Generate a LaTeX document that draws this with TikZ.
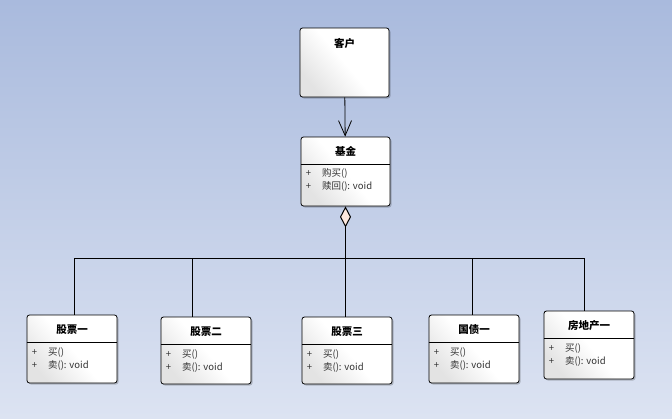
\documentclass[tikz,border=0pt]{standalone}
\usepackage{fontspec}
\setmainfont{Noto Sans CJK SC}
\usepackage{tikz}
\usetikzlibrary{arrows.meta,shadows,positioning}
\definecolor{bgtop}{RGB}{169,186,221}
\definecolor{bgbottom}{RGB}{220,227,242}
\definecolor{diamondfill}{RGB}{253,232,222}

\begin{document}
\begin{tikzpicture}[x=1pt,y=-1pt,
  classbox/.style={draw=black, line width=0.8pt, rounded corners=2.5pt,
    minimum width=89pt, minimum height=69pt, inner sep=0pt,
    top color=white, bottom color=black!11, middle color=white, shading angle=-50,
    drop shadow={shadow xshift=1.5pt, shadow yshift=-1.5pt, opacity=0.2, fill=black}},
  classtitle/.style={inner sep=0pt, font=\fontsize{10.5}{12}\selectfont\bfseries},
  members/.style={inner sep=0pt, anchor=north west, text=black!80,
    font=\fontsize{9.5}{12.5}\selectfont},
  divider/.style={line width=0.6pt},
  link/.style={line width=0.8pt}]
%%%%%%%%%%%%%%%%%%%%%%%%%%%%%%%
% background
%%%%%%%%%%%%%%%%%%%%%%%%%%%%%%%
\useasboundingbox (0,0) rectangle (672,418);
\shade[top color=bgtop, bottom color=bgbottom] (0,0) rectangle (672,418);
%
\node[classbox] (client) at (344.5,62.5) {};
\node[classtitle] at ([yshift=-16pt]client.north) {客户};
%
\node[classbox] (fund) at (345.5,171.5) {};
\node[classtitle] at ([yshift=-15pt]fund.north) {基金};
\draw[divider] ([yshift=-27.5pt]fund.north west) -- ([yshift=-27.5pt]fund.north east);
\node[members] at ([xshift=5pt,yshift=-31pt]fund.north west)
  {\begin{tabular}{@{}l@{\hspace{11pt}}l@{}}+ & 购买()\\+ & 赎回(): void\end{tabular}};
%
\node[classbox, minimum width=90pt, minimum height=68pt] (s1) at (72,349) {};
\node[classtitle] at ([yshift=-15pt]s1.north) {股票一};
\draw[divider] ([yshift=-27.5pt]s1.north west) -- ([yshift=-27.5pt]s1.north east);
\node[members] at ([xshift=5pt,yshift=-32pt]s1.north west)
  {\begin{tabular}{@{}l@{\hspace{11pt}}l@{}}+ & 买()\\+ & 卖(): void\end{tabular}};
%
\node[classbox, minimum width=90pt, minimum height=67pt] (s2) at (206,350.5) {};
\node[classtitle] at ([yshift=-15pt]s2.north) {股票二};
\draw[divider] ([yshift=-27.5pt]s2.north west) -- ([yshift=-27.5pt]s2.north east);
\node[members] at ([xshift=5pt,yshift=-32pt]s2.north west)
  {\begin{tabular}{@{}l@{\hspace{11pt}}l@{}}+ & 买()\\+ & 卖(): void\end{tabular}};
%
\node[classbox, minimum width=90pt, minimum height=67pt] (s3) at (347,350.5) {};
\node[classtitle] at ([yshift=-15pt]s3.north) {股票三};
\draw[divider] ([yshift=-27.5pt]s3.north west) -- ([yshift=-27.5pt]s3.north east);
\node[members] at ([xshift=5pt,yshift=-32pt]s3.north west)
  {\begin{tabular}{@{}l@{\hspace{11pt}}l@{}}+ & 买()\\+ & 卖(): void\end{tabular}};
%
\node[classbox, minimum width=90pt, minimum height=68pt] (s4) at (474,349) {};
\node[classtitle] at ([yshift=-15pt]s4.north) {国债一};
\draw[divider] ([yshift=-27.5pt]s4.north west) -- ([yshift=-27.5pt]s4.north east);
\node[members] at ([xshift=5pt,yshift=-32pt]s4.north west)
  {\begin{tabular}{@{}l@{\hspace{11pt}}l@{}}+ & 买()\\+ & 卖(): void\end{tabular}};
%
\node[classbox, minimum width=90pt, minimum height=68pt] (s5) at (589,345) {};
\node[classtitle] at ([yshift=-15pt]s5.north) {房地产一};
\draw[divider] ([yshift=-27.5pt]s5.north west) -- ([yshift=-27.5pt]s5.north east);
\node[members] at ([xshift=5pt,yshift=-32pt]s5.north west)
  {\begin{tabular}{@{}l@{\hspace{11pt}}l@{}}+ & 买()\\+ & 卖(): void\end{tabular}};
%%%%%%%%%%%%%%%%%%%%%%%%%%%%%%%
% links
%%%%%%%%%%%%%%%%%%%%%%%%%%%%%%%
\draw[link, -{Straight Barb[length=15pt,width=13pt]}] (client) -- (fund);
%
\coordinate (bus) at (345.5,258.5);
\draw[line width=1.6pt, {Diamond[length=21pt,width=11pt,fill=diamondfill,line width=1pt]}-] (fund) -- (bus);
\draw[link] (bus) -| ([xshift=2pt]s1.north);
\draw[link] (bus) -| ([xshift=-13.5pt]s2.north);
\draw[link] (bus) -| ([xshift=-1.5pt]s3.north);
\draw[link] (bus) -| ([xshift=-2pt]s4.north);
\draw[link] (bus) -| ([xshift=-5pt]s5.north);
%%%%%%%%%%%%%%%%%%%%%%%%%%%%%%%
\end{tikzpicture}
\end{document}
